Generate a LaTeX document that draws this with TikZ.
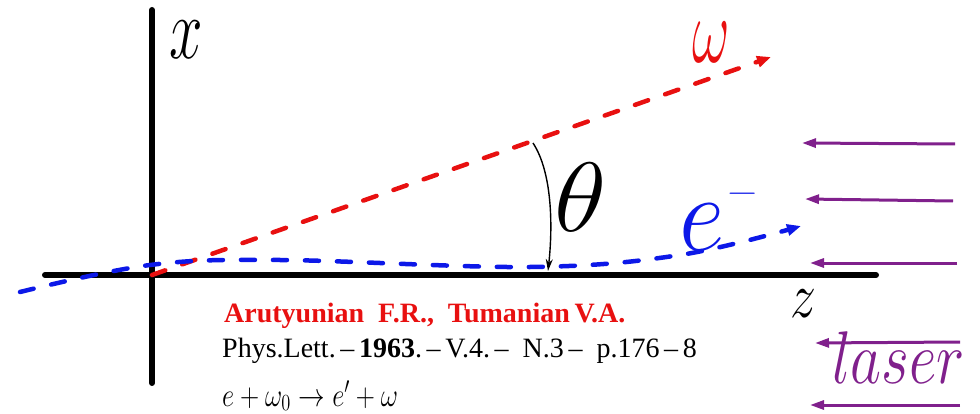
\documentclass[tikz,border=0pt]{standalone}
\usepackage{fontspec}
\usepackage{graphicx}
\setmainfont{Liberation Serif}
\usetikzlibrary{arrows.meta}
\definecolor{myred}{RGB}{232,16,16}
\definecolor{myblue}{RGB}{12,24,232}
\definecolor{mypurple}{RGB}{128,32,140}
\begin{document}
\begin{tikzpicture}[x=1pt,y=-1pt,
  axisline/.style={line width=6pt, line cap=round},
  reddash/.style={draw=myred, line width=4.5pt, line cap=round, dash pattern=on 14pt off 18pt, -{Triangle[length=14pt,width=11pt]}},
  bluedash/.style={draw=myblue, line width=4.5pt, line cap=round, dash pattern=on 14pt off 18pt, -{Triangle[length=14pt,width=11pt]}},
  laserarrow/.style={draw=mypurple, line width=3pt, -{Triangle[length=14pt,width=9pt]}},
  anglearc/.style={draw=black, line width=1.4pt, -{Stealth[length=12pt,width=7pt]}},
  biglabel/.style={inner sep=0pt, font=\fontsize{20}{20}\selectfont},
  txt/.style={anchor=base west, inner sep=0pt}
]
\useasboundingbox (0,0) rectangle (980,414);
% axes
\coordinate (xtop) at (152,10);
\coordinate (xbot) at (152,383);
\coordinate (zl) at (45,275);
\coordinate (zr) at (876,275);
\coordinate (O) at (152,275);
\draw[axisline] (xtop) -- (xbot);
\draw[axisline] (zl) -- (zr);
% photon (red)
\coordinate (wend) at (771,57);
\draw[reddash] (O) -- (wend);
% electron (blue)
\coordinate (b1) at (20,292);
\coordinate (b2) at (150,265);
\coordinate (b3) at (280,260);
\coordinate (b4) at (530,267);
\coordinate (b5) at (680,255);
\coordinate (b6) at (801,226);
\draw[bluedash] plot[smooth, tension=0.6] coordinates {(b1) (b2) (b3) (b4) (b5) (b6)};
% angle theta
\coordinate (ta) at (533,143);
\coordinate (tb) at (548,271);
\draw[anglearc] (ta) .. controls (552,172) and (553,225) .. (tb);
% labels
\node[biglabel] (xlab) at (186,40) {\scalebox{2.9}[4.2]{$x$}};
\node[biglabel] (zlab) at (803,304) {\scalebox{2.5}[3.1]{$z$}};
\node[biglabel, text=myred] (wlab) at (711,42) {\scalebox{2.8}[4.5]{$\omega$}};
\node[biglabel] (thlab) at (581,197) {\scalebox{5.2}[4.75]{$\theta$}};
\node[biglabel, text=myblue] (elab) at (702,227) {\scalebox{4.8}[5.2]{$e$}};
\node[biglabel, text=myblue] (emin) at (743,194) {\scalebox{2}[1.5]{$-$}};
% laser
\coordinate (l1s) at (955,144); \coordinate (l1e) at (802,143);
\coordinate (l2s) at (953,201); \coordinate (l2e) at (805,199);
\coordinate (l3s) at (957,263); \coordinate (l3e) at (810,263);
\coordinate (l4s) at (960,342); \coordinate (l4e) at (815,343);
\coordinate (l5s) at (960,405); \coordinate (l5e) at (810,405);
\draw[laserarrow] (l1s) -- (l1e);
\draw[laserarrow] (l2s) -- (l2e);
\draw[laserarrow] (l3s) -- (l3e);
\draw[laserarrow] (l4s) -- (l4e);
\draw[laserarrow] (l5s) -- (l5e);
\node[txt, text=mypurple, font=\fontsize{20}{20}\selectfont] (laser) at (832,383) {\scalebox{2.9}[3.6]{$laser$}};
% reference text
\node[txt, text=myred, font=\fontsize{28}{28}\selectfont\bfseries] (auth) at (224,322) {Arutyunian\ \ F.R.,\ \ Tumanian\,V.A.};
\node[txt, font=\fontsize{28}{28}\selectfont] (ref) at (222,357) {Phys.Lett.\,–\,\textbf{1963}.\,–\,V.4.\,–\ \ N.3\,–\ \ p.176\,–\,8};
\node[txt, font=\fontsize{20}{20}\selectfont] (eq) at (222,406) {\scalebox{1.28}[1.6]{$e+\omega_0\to e'+\omega$}};
\end{tikzpicture}
\end{document}
